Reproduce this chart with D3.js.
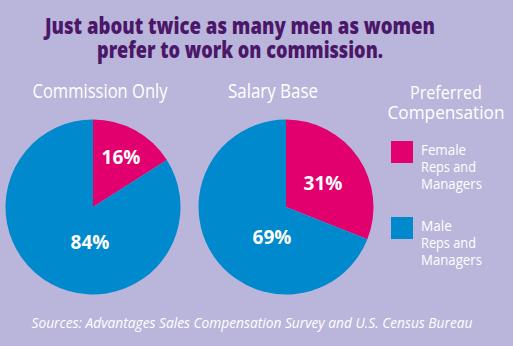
<!DOCTYPE html>
<html>
<head>
<meta charset="utf-8">
<script src="https://cdn.jsdelivr.net/npm/d3@7"></script>
<style>
  html, body { margin: 0; padding: 0; background: #bab5da; }
  svg { display: block; }
  text { font-family: "Open Sans", "Noto Sans", sans-serif; }
</style>
</head>
<body>
<svg id="chart" width="513" height="346"></svg>
<script>
const groups = ['Female Reps and Managers', 'Male Reps and Managers'];
const pieTitles = ['Commission Only', 'Salary Base'];
const commissionOnly = [16, 84];
const salaryBase = [31, 69];
const titleLines = ['Just about twice as many men as women', 'prefer to work on commission.'];
const legendTitle = ['Preferred', 'Compensation'];
const legendLines = [['Female', 'Reps and', 'Managers'], ['Male', 'Reps and', 'Managers']];
const source = 'Sources: Advantages Sales Compensation Survey and U.S. Census Bureau';

const svg = d3.select('#chart');
const color = d3.scaleOrdinal().domain(groups).range(['#e2006f', '#0089cc']);

svg.append('rect').attr('width', 513).attr('height', 346).attr('fill', '#bab5da');

// headline
svg.selectAll('.headline')
    .data(titleLines)
    .enter()
    .append('text')
    .attr('class', 'headline')
    .attr('x', 240)
    .attr('y', (d, i) => 34 + i * 24)
    .attr('text-anchor', 'middle')
    .attr('fill', '#4b1769')
    .attr('font-size', 22)
    .attr('font-weight', 800)
    .attr('textLength', (d, i) => i === 0 ? 390 : 286)
    .attr('lengthAdjust', 'spacingAndGlyphs')
    .text(d => d);

const pie = d3.pie().sort(null).value(d => d.value);
const radius = 87.5;
const arc = d3.arc().innerRadius(0).outerRadius(radius);

const pies = [
    { title: pieTitles[0], values: commissionOnly, cx: 93, titleX: 100, titleW: 135,
      labelPos: [[121, 164], [90, 249]] },
    { title: pieTitles[1], values: salaryBase, cx: 286, titleX: 273, titleW: 90,
      labelPos: [[323, 190], [272, 244]] }
];

pies.forEach(p => {
    const data = groups.map((g, i) => ({ group: g, value: p.values[i] }));

    svg.append('text')
        .attr('x', p.titleX)
        .attr('y', 98)
        .attr('text-anchor', 'middle')
        .attr('fill', '#ffffff')
        .attr('font-size', 20)
        .attr('textLength', p.titleW)
        .attr('lengthAdjust', 'spacingAndGlyphs')
        .text(p.title);

    const g = svg.append('g').attr('transform', `translate(${p.cx}, 207)`);

    g.selectAll('path')
        .data(pie(data))
        .enter()
        .append('path')
        .attr('d', arc)
        .attr('fill', d => color(d.data.group));

    svg.selectAll(null)
        .data(data)
        .enter()
        .append('text')
        .attr('x', (d, i) => p.labelPos[i][0])
        .attr('y', (d, i) => p.labelPos[i][1])
        .attr('text-anchor', 'middle')
        .attr('fill', '#ffffff')
        .attr('font-size', 19)
        .attr('font-weight', 700)
        .text(d => d.value + '%');
});

// legend
svg.selectAll('.legend-title')
    .data(legendTitle)
    .enter()
    .append('text')
    .attr('x', 446)
    .attr('y', (d, i) => 99 + i * 20)
    .attr('text-anchor', 'middle')
    .attr('fill', '#ffffff')
    .attr('font-size', 19)
    .attr('textLength', (d, i) => i === 0 ? 72 : 117)
    .attr('lengthAdjust', 'spacingAndGlyphs')
    .text(d => d);

const legend = svg.selectAll('.legend')
    .data(groups)
    .enter()
    .append('g')
    .attr('transform', (d, i) => `translate(391, ${141 + i * 76})`);

legend.append('rect')
    .attr('width', 22)
    .attr('height', 22)
    .attr('fill', d => color(d));

legend.each(function (d, i) {
    d3.select(this).selectAll('text')
        .data(legendLines[i])
        .enter()
        .append('text')
        .attr('x', 30)
        .attr('y', (t, j) => 14 + j * 17)
        .attr('fill', '#ffffff')
        .attr('font-size', 15)
        .attr('textLength', t => t === 'Female' ? 45 : (t === 'Male' ? 31 : (t === 'Reps and' ? 55 : 61)))
        .attr('lengthAdjust', 'spacingAndGlyphs')
        .text(t => t);
});

svg.append('text')
    .attr('x', 252)
    .attr('y', 328)
    .attr('text-anchor', 'middle')
    .attr('fill', '#ffffff')
    .attr('font-size', 15)
    .attr('font-style', 'italic')
    .attr('textLength', 441)
    .attr('lengthAdjust', 'spacingAndGlyphs')
    .text(source);
</script>
</body>
</html>
